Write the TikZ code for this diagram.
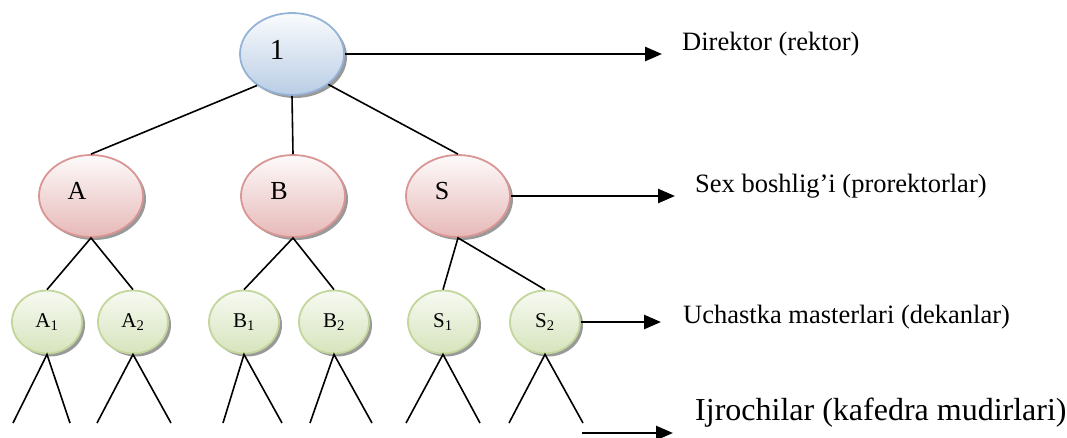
\documentclass[tikz,border=0pt]{standalone}
\usepackage{fontspec}
\setmainfont{Liberation Serif}
\usetikzlibrary{arrows.meta,positioning,calc,shadows,shapes.geometric}
\definecolor{rektorline}{HTML}{95B3D7}
\definecolor{rektorfill}{HTML}{B9CDE5}
\definecolor{prorline}{HTML}{D99694}
\definecolor{prorfill}{HTML}{E6B9B8}
\definecolor{dekanline}{HTML}{C3D69B}
\definecolor{dekanfill}{HTML}{D7E4BD}
\tikzstyle{boss}=[ellipse,inner sep=0pt,line width=1.8pt,
  drop shadow={shadow xshift=3pt,shadow yshift=-3pt,fill=black!40,opacity=1}]
\tikzstyle{rektor}=[boss,draw=rektorline,top color=white!93!rektorfill,bottom color=rektorfill,
  minimum width=104pt,minimum height=82pt]
\tikzstyle{prorektor}=[boss,draw=prorline,top color=white!93!prorfill,bottom color=prorfill,
  minimum width=104pt,minimum height=82pt]
\tikzstyle{dekan}=[boss,draw=dekanline,top color=white!80!dekanfill,bottom color=dekanfill,
  minimum width=70pt,minimum height=63pt,font=\fontsize{21}{23}\selectfont]
\tikzstyle{link}=[line width=1.6pt]
\tikzstyle{pointer}=[line width=2.6pt,-{Triangle[length=17pt,width=14pt]}]
\tikzstyle{caption}=[anchor=west,inner sep=0pt,font=\fontsize{26.5}{28}\selectfont]

\begin{document}
\begin{tikzpicture}[x=1pt,y=-1pt]
    \useasboundingbox (0,0) rectangle (1067,437);
    % top
    \node [rektor,label={[xshift=-15pt,yshift=4pt,font=\fontsize{29}{31}\selectfont]center:1}] (one) at (292,54) {};
    % second row
    \node [prorektor,label={[xshift=-14pt,yshift=5pt,font=\fontsize{26}{28}\selectfont]center:A}] (A) at (91,196) {};
    \node [prorektor,label={[xshift=-14pt,yshift=5pt,font=\fontsize{26}{28}\selectfont]center:B}] (B) at (293,196) {};
    \node [prorektor,label={[xshift=-16pt,yshift=5pt,font=\fontsize{26}{28}\selectfont]center:S}] (S) at (458,196) {};
    % third row
    \foreach \name/\x/\txt in {A1/47/A\textsubscript{1},A2/133/A\textsubscript{2},
        B1/244/B\textsubscript{1},B2/334/B\textsubscript{2},
        S1/443/S\textsubscript{1},S2/545/S\textsubscript{2}}
      \node [dekan] (\name) at (\x,322) {\txt};

    \draw [link] (one.222) -- (A.north);
    \draw [link] (one.south) -- (B.north);
    \draw [link] (one.320) -- (S.north);
    \draw [link] (A1.north) -- (A.south) -- (A2.north);
    \draw [link] (B1.north) -- (B.south) -- (B2.north);
    \draw [link] (S1.north) -- (S.south) -- (S2.north);

    % executors below
    \foreach \name/\l/\r in {A1/13/70,A2/97/171,B1/223/282,B2/310/372,S1/406/480,S2/509/583}{
      \coordinate (\name l) at (\l,423);
      \coordinate (\name r) at (\r,423);
      \draw [link] (\name l) -- (\name.south) -- (\name r);
    }

    % captions
    \node [caption] (dir) at (682,44) {Direktor (rektor)};
    \node [caption] (sex) at (695,186) {Sex boshlig’i (prorektorlar)};
    \node [caption] (uch) at (683,317) {Uchastka masterlari (dekanlar)};
    \node [caption,font=\fontsize{32}{34}\selectfont] (ijr) at (695,413) {Ijrochilar (kafedra mudirlari)};

    \coordinate (dirtip) at (662,54);
    \coordinate (sextip) at (675,196);
    \coordinate (uchtip) at (661,322);
    \coordinate (ijrfrom) at (582,433);
    \coordinate (ijrtip) at (673,433);
    \draw [pointer] (one.east) -- (dirtip);
    \draw [pointer] (S.east) -- (sextip);
    \draw [pointer] (S2.east) -- (uchtip);
    \draw [pointer] (ijrfrom) -- (ijrtip);
\end{tikzpicture}
\end{document}
